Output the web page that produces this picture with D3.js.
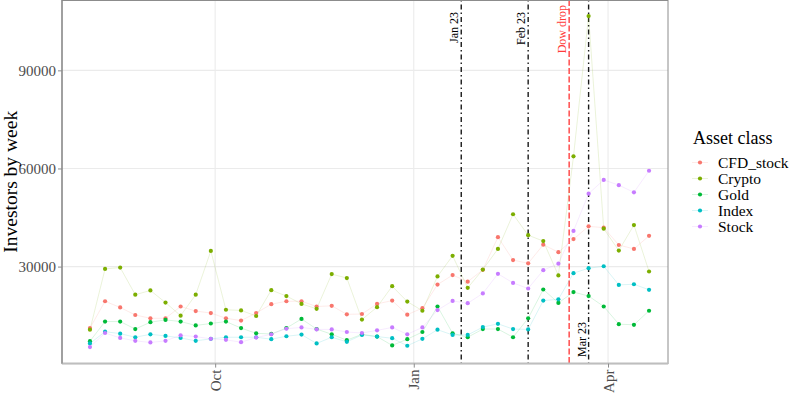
<!DOCTYPE html>
<html>
<head>
<meta charset="utf-8">
<script src="https://cdn.jsdelivr.net/npm/d3@7"></script>
<style>
  html, body { margin: 0; padding: 0; background: #fff; }
  svg { display: block; }
  text { font-family: "Liberation Serif", "Times New Roman", serif; }
</style>
</head>
<body>
<svg id="chart" width="800" height="394"></svg>
<script>
// ---------- data ----------
const weeks = [
  "2022-08-04","2022-08-11","2022-08-18","2022-08-25","2022-09-01","2022-09-08","2022-09-15","2022-09-22",
  "2022-09-29","2022-10-06","2022-10-13","2022-10-20","2022-10-27","2022-11-03","2022-11-10","2022-11-17",
  "2022-11-24","2022-12-01","2022-12-08","2022-12-15","2022-12-22","2022-12-29","2023-01-05","2023-01-12",
  "2023-01-19","2023-01-26","2023-02-02","2023-02-09","2023-02-16","2023-02-23","2023-03-02","2023-03-09",
  "2023-03-16","2023-03-23","2023-03-30","2023-04-06","2023-04-13","2023-04-20"
];
const assetClasses = ["CFD_stock","Crypto","Gold","Index","Stock"];
const cfdStock = [11200,19400,17500,15200,14200,14200,17800,16400,15800,14200,13500,15800,18500,19400,19400,17800,
  18000,15400,15500,18600,19600,15300,17300,24500,27400,25400,29000,39000,32000,31000,36700,34400,38400,42300,41900,36600,35400,39400];
const crypto = [10700,29300,29700,21400,22700,19000,15000,21400,34800,16800,16600,14900,22800,21000,18600,17100,
  27700,26500,13800,17600,24000,19300,16500,27000,33300,23500,29100,35400,46000,39600,37800,27300,63700,106600,41600,34900,42700,28500];
const gold = [7200,13200,13200,10900,13000,13700,13200,12000,12600,13200,11200,9600,9400,11200,14000,10900,
  9300,7500,9300,8600,5900,7800,10000,17800,9600,8400,10900,10900,8400,14200,23000,18900,22200,21000,17800,12400,12200,16500];
const indexVals = [6500,10100,9500,8400,9300,8800,8200,7300,7900,8400,8400,8400,7800,8700,9200,6500,
  8400,7000,9100,8600,8100,5800,7900,10700,9100,9100,11500,12500,10900,10800,19600,20000,28000,29500,30100,24400,24600,22900];
const stock = [5400,9700,8200,7300,6800,7300,9000,8600,7900,7600,6900,8300,9300,11000,11400,10800,
  10800,10000,9700,10500,11400,9300,11400,16700,19500,18800,21800,27800,25000,23300,28900,30900,40900,52300,56500,54900,52700,59300];
const seriesValues = [cfdStock, crypto, gold, indexVals, stock];
const colors = ["#F8766D","#7CAE00","#00BA38","#00BFC4","#C77CFF"];

const yTicks = [30000, 60000, 90000];
const xTickDates = ["2022-10-01","2023-01-01","2023-04-01"];
const xTickLabels = ["Oct","Jan","Apr"];

const eventDates = ["2023-01-23","2023-02-23","2023-03-14","2023-03-23"];
const eventLabels = ["Jan 23","Feb 23","Dow drop","Mar 23"];
const eventColors = ["#000000","#000000","#FF3B3B","#000000"];
const eventPlace = ["top","top","top","bottom"];

const yTitle = "Investors by week";
const legendTitle = "Asset class";

// ---------- layout ----------
const panel = { left: 62, right: 668, scaleRight: 677, top: -0.5, bottom: 363.6 };
const parse = d3.utcParse("%Y-%m-%d");
const dates = weeks.map(parse);

const svg = d3.select("#chart");
svg.append("rect").attr("width", 800).attr("height", 394).attr("fill", "#fff");

const dExt = d3.extent(dates);
const dPad = (dExt[1] - dExt[0]) * 0.05;
const x = d3.scaleUtc()
  .domain([new Date(+dExt[0] - dPad), new Date(+dExt[1] + dPad)])
  .range([panel.left, panel.scaleRight]);

const allVals = seriesValues.flat();
const vExt = d3.extent(allVals);
const vPad = (vExt[1] - vExt[0]) * 0.05;
const y = d3.scaleLinear()
  .domain([vExt[0] - vPad, vExt[1] + vPad])
  .range([panel.bottom, panel.top]);

const g = svg.append("g");

// grid
g.selectAll("line.hgrid").data(yTicks).join("line")
  .attr("x1", panel.left).attr("x2", panel.right)
  .attr("y1", d => y(d)).attr("y2", d => y(d))
  .attr("stroke", "#EBEBEB").attr("stroke-width", 1.1);
g.selectAll("line.vgrid").data(xTickDates).join("line")
  .attr("x1", d => x(parse(d))).attr("x2", d => x(parse(d)))
  .attr("y1", 0).attr("y2", panel.bottom)
  .attr("stroke", "#EBEBEB").attr("stroke-width", 1.1);

// event lines
const evG = g.append("g");
eventDates.forEach((d, i) => {
  const xx = x(parse(d));
  const isRed = eventColors[i] !== "#000000";
  evG.append("line")
    .attr("x1", xx).attr("x2", xx).attr("y1", 0).attr("y2", panel.bottom)
    .attr("stroke", eventColors[i])
    .attr("stroke-opacity", isRed ? 0.85 : 0.9)
    .attr("stroke-width", isRed ? 1.6 : 1.4)
    .attr("stroke-dasharray", isRed ? "6,2.5" : "1.5,3,5,3");
});

// series lines and points
const lineGen = d3.line().x((d, i) => x(dates[i])).y(d => y(d));
const serG = g.append("g");
seriesValues.forEach((vals, s) => {
  serG.append("path")
    .attr("d", lineGen(vals))
    .attr("fill", "none")
    .attr("stroke", colors[s])
    .attr("stroke-opacity", 0.25)
    .attr("stroke-width", 0.6);
});
seriesValues.forEach((vals, s) => {
  serG.selectAll(null).data(vals).join("circle")
    .attr("cx", (d, i) => x(dates[i]))
    .attr("cy", d => y(d))
    .attr("r", 2.1)
    .attr("fill", colors[s]);
});

// event labels
eventDates.forEach((d, i) => {
  const xx = x(parse(d)) - 3;
  const top = eventPlace[i] === "top";
  const yy = top ? (eventLabels[i] === "Dow drop" ? 5 : 12) : 357;
  evG.append("text")
    .attr("transform", `translate(${xx},${yy}) rotate(-90)`)
    .attr("text-anchor", top ? "end" : "start")
    .attr("font-size", 12)
    .attr("fill", eventColors[i] === "#000000" ? "#000" : "#FF3B3B")
    .text(eventLabels[i]);
});

// panel border
g.append("rect")
  .attr("x", panel.left).attr("y", 0.5)
  .attr("width", panel.right - panel.left).attr("height", panel.bottom - 0.5)
  .attr("fill", "none").attr("stroke", "#8C8C8C").attr("stroke-width", 1);
// axis lines
g.append("line").attr("x1", panel.left).attr("x2", panel.right)
  .attr("y1", panel.bottom).attr("y2", panel.bottom)
  .attr("stroke", "#BEBEBE").attr("stroke-width", 2);
g.append("line").attr("x1", panel.left).attr("x2", panel.left)
  .attr("y1", 0).attr("y2", panel.bottom)
  .attr("stroke", "#8C8C8C").attr("stroke-width", 1.3);

// y axis
const yAxis = d3.axisLeft(y).tickValues(yTicks).tickSize(4).tickPadding(2).tickFormat(d3.format("d"));
const yAx = svg.append("g").attr("transform", `translate(${panel.left},0)`).call(yAxis);
yAx.select(".domain").remove();
yAx.selectAll(".tick line").attr("stroke", "#8C8C8C");
yAx.selectAll(".tick text").attr("font-size", 15).attr("fill", "#4D4D4D");

// x axis
const xAxis = d3.axisBottom(x).tickValues(xTickDates.map(parse)).tickSize(4)
  .tickFormat((d, i) => xTickLabels[i]);
const xAx = svg.append("g").attr("transform", `translate(0,${panel.bottom})`).call(xAxis);
xAx.select(".domain").remove();
xAx.selectAll(".tick line").attr("stroke", "#8C8C8C");
xAx.selectAll(".tick text")
  .attr("font-size", 15).attr("fill", "#4D4D4D")
  .attr("text-anchor", "end")
  .attr("dy", null).attr("y", 0)
  .attr("transform", "translate(5,6) rotate(-90)");

// y title
svg.append("text")
  .attr("transform", `translate(17,${(panel.bottom) / 2}) rotate(-90)`)
  .attr("text-anchor", "middle")
  .attr("font-size", 19.5)
  .attr("fill", "#000")
  .text(yTitle);

// legend
const lg = svg.append("g");
lg.append("text").attr("x", 693).attr("y", 143.5).attr("font-size", 18).attr("fill", "#000").text(legendTitle);
assetClasses.forEach((name, i) => {
  const cy = 162.5 + i * 16;
  lg.append("line").attr("x1", 692).attr("x2", 708).attr("y1", cy).attr("y2", cy)
    .attr("stroke", colors[i]).attr("stroke-opacity", 0.25).attr("stroke-width", 0.6);
  lg.append("circle").attr("cx", 700).attr("cy", cy).attr("r", 2.1).attr("fill", colors[i]);
  lg.append("text").attr("x", 718).attr("y", cy).attr("dy", "0.33em")
    .attr("font-size", 15.5).attr("fill", "#000").text(name);
});
</script>
</body>
</html>
